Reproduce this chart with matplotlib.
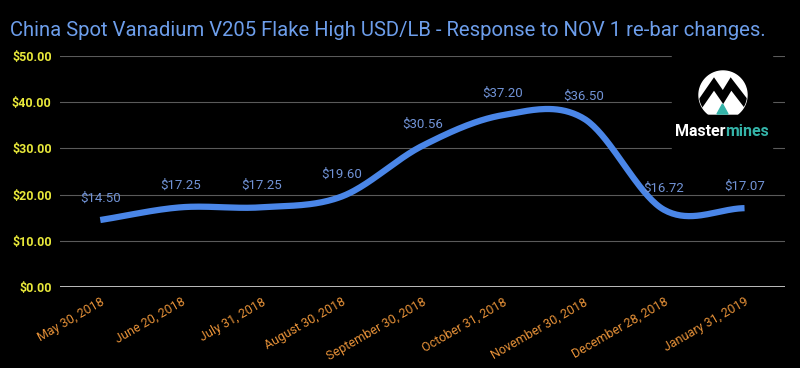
import numpy as np
import matplotlib.pyplot as plt
from matplotlib.patches import Polygon, Rectangle
from matplotlib.transforms import ScaledTranslation

plt.rcParams['font.family'] = ['Roboto', 'DejaVu Sans']

# Data
dates = ["May 30, 2018", "June 20, 2018", "July 31, 2018", "August 30, 2018",
         "September 30, 2018", "October 31, 2018", "November 30, 2018",
         "December 28, 2018", "January 31, 2019"]
prices = [14.50, 17.25, 17.25, 19.60, 30.56, 37.20, 36.50, 16.72, 17.07]
yticks = [0, 10, 20, 30, 40, 50]


def smooth(y, n=40):
    # Catmull-Rom style spline through the points (like a "smooth" line chart)
    y = np.asarray(y, float)
    m = np.zeros_like(y)
    m[1:-1] = (y[2:] - y[:-2]) / 2
    m[0] = y[1] - y[0]
    m[-1] = y[-1] - y[-2]
    xs, ys = [], []
    for i in range(len(y) - 1):
        t = np.linspace(0, 1, n, endpoint=(i == len(y) - 2))
        h00 = 2 * t**3 - 3 * t**2 + 1
        h10 = t**3 - 2 * t**2 + t
        h01 = -2 * t**3 + 3 * t**2
        h11 = t**3 - t**2
        xs.append(i + t)
        ys.append(h00 * y[i] + h10 * m[i] + h01 * y[i + 1] + h11 * m[i + 1])
    return np.concatenate(xs), np.concatenate(ys)


fig = plt.figure(figsize=(8, 3.68), dpi=100, facecolor="black")
ax = fig.add_axes([0.075, 0.22, 0.906, 0.628], facecolor="black")

x = np.arange(len(prices))
sx, sy = smooth(prices)
ax.plot(sx, sy, color="#4a86e8", linewidth=4.5, solid_capstyle="butt", zorder=3)

for i, v in enumerate(prices):
    ax.annotate(f"${v:.2f}", (i, v), xytext=(0, 11), textcoords="offset points",
                ha="center", va="bottom", color="#7193d6", fontsize=9.5, zorder=4)

ax.set_xlim(-0.5, len(prices) - 0.5)
ax.set_ylim(0, 50)
ax.set_yticks(yticks)
ax.set_yticklabels([f"${t:.2f}" for t in yticks], color="#e8e83a", fontsize=9,
                   fontweight="bold")
ax.set_xticks(x)
ax.set_xticklabels(dates, rotation=30, ha="right", rotation_mode="anchor",
                   color="#e69138", fontsize=9)
shift = ScaledTranslation(5 / 100, 0, fig.dpi_scale_trans)
for lbl in ax.get_xticklabels():
    lbl.set_transform(lbl.get_transform() + shift)
ax.tick_params(length=0, pad=6)
ax.grid(axis="y", color="#5a5a5a", linewidth=0.8)
ax.axhline(0, color="#dddddd", linewidth=1.2, zorder=2)
for s in ax.spines.values():
    s.set_visible(False)

fig.text(10 / 800, 1 - 30 / 368,
         "China Spot Vanadium V205 Flake High USD/LB - Response to NOV 1 re-bar changes.",
         color="#6d9eeb", fontsize=14.6, va="center", ha="left")

# Logo overlay in pixel coordinates
lax = fig.add_axes([0, 0, 1, 1], facecolor="none")
lax.set_xlim(0, 800)
lax.set_ylim(368, 0)
lax.axis("off")
lax.add_patch(Rectangle((672, 52), 100, 98, color="black"))
ang = np.linspace(0, 2 * np.pi, 200)
cx, cy, r = 723, 95, 24
px, py = cx + r * np.cos(ang), cy + r * np.sin(ang)
py = np.minimum(py, 114)
badge = Polygon(np.column_stack([px, py]), closed=True, color="white")
lax.add_patch(badge)
mline, = lax.plot([696, 714, 723, 731, 751], [110, 84, 97, 84, 110],
                  color="black", linewidth=5.5, solid_joinstyle="miter")
mline.set_clip_path(badge)
lax.add_patch(Polygon([[717, 114], [722.5, 104], [728, 114]], closed=True,
                      color="#34b3a8"))

renderer = fig.canvas.get_renderer()
t1 = lax.text(0, 131, "Master", color="white", fontsize=11.5,
              fontweight="bold", ha="left", va="center")
t2 = lax.text(0, 131, "mines", color="#34b3a8", fontsize=11.5,
              fontweight="bold", ha="left", va="center")
w1 = t1.get_window_extent(renderer).width
w2 = t2.get_window_extent(renderer).width
left = 722 - (w1 + w2) / 2
t1.set_x(left)
t2.set_x(left + w1)

fig.savefig("out.png", dpi=100, facecolor="black")
